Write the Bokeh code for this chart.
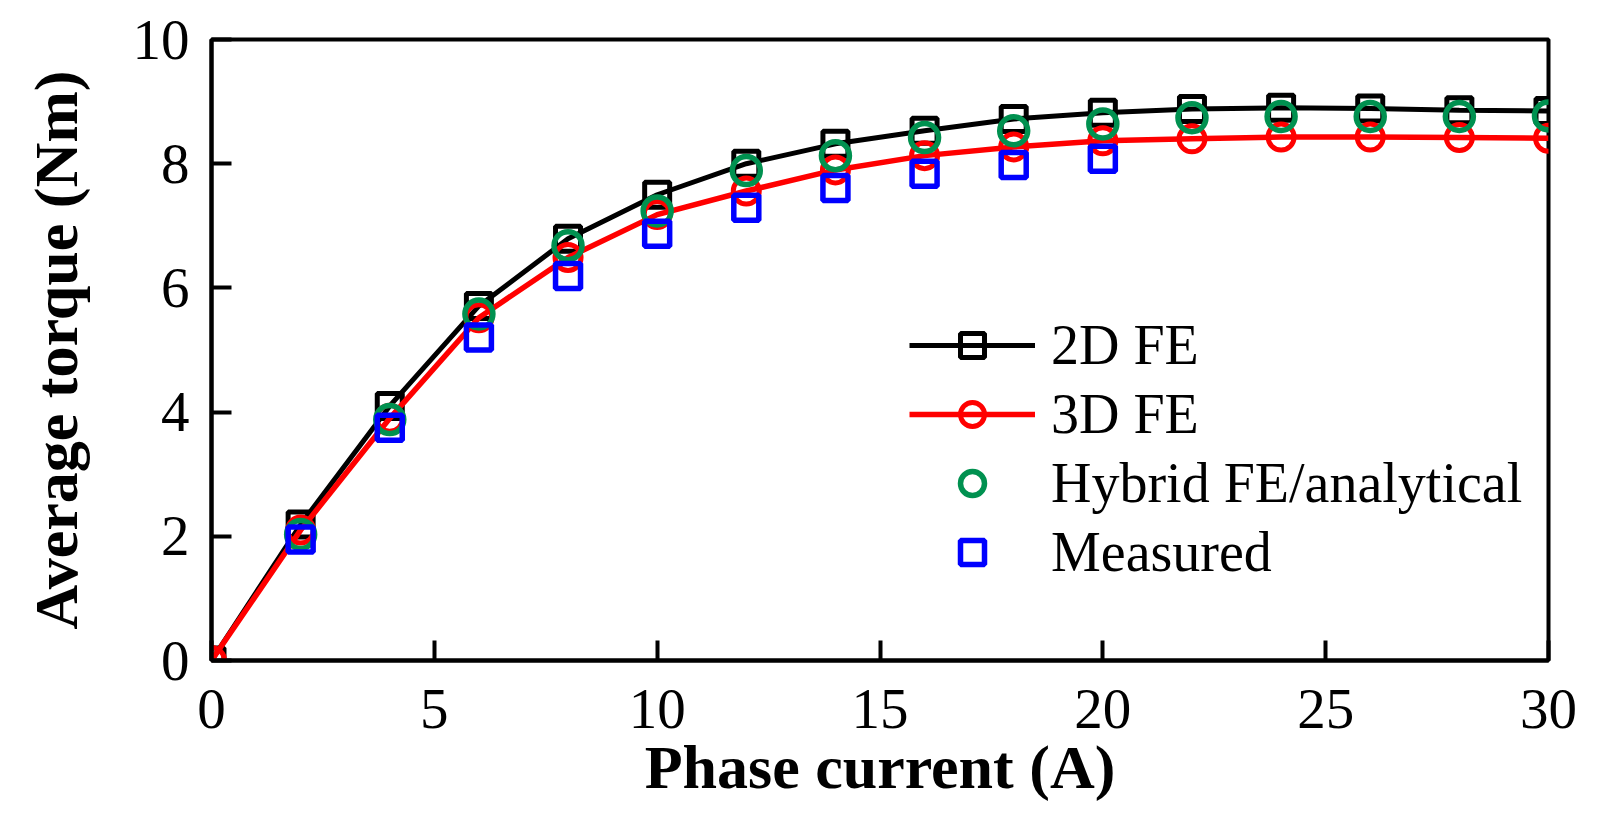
from bokeh.plotting import figure
from bokeh.models import Range1d, FixedTicker, Legend, LegendItem
from bokeh.embed import file_html
from bokeh.resources import INLINE

# ---- data ----
x_fe = [0, 2, 4, 6, 8, 10, 12, 14, 16, 18, 20, 22, 24, 26, 28, 30]
torque_2d = [0, 2.19, 4.10, 5.71, 6.79, 7.50, 8.00, 8.32, 8.53, 8.72, 8.82, 8.88, 8.90, 8.89, 8.86, 8.85]
torque_3d = [0, 2.10, 3.90, 5.52, 6.49, 7.18, 7.56, 7.90, 8.13, 8.27, 8.37, 8.40, 8.43, 8.43, 8.42, 8.41]
x_hybrid = [2, 4, 6, 8, 10, 12, 14, 16, 18, 20, 22, 24, 26, 28, 30]
torque_hybrid = [2.03, 3.88, 5.58, 6.68, 7.24, 7.89, 8.13, 8.42, 8.53, 8.64, 8.74, 8.76, 8.76, 8.76, 8.77]
x_meas = [2, 4, 6, 8, 10, 12, 14, 16, 18, 20]
torque_meas = [1.95, 3.75, 5.20, 6.19, 6.87, 7.29, 7.61, 7.84, 7.98, 8.08]

x_ticks = [0, 5, 10, 15, 20, 25, 30]
y_ticks = [0, 2, 4, 6, 8, 10]

FONT = "Liberation Serif"
GREEN = "#009150"

p = figure(width=1593, height=815, output_backend="svg", toolbar_location=None,
           x_range=Range1d(0, 30), y_range=Range1d(0, 10),
           min_border_left=211, min_border_right=45, min_border_top=39, min_border_bottom=155)
p.xgrid.visible = False
p.ygrid.visible = False
p.outline_line_color = "black"
p.outline_line_width = 4
p.background_fill_color = "white"
p.border_fill_color = "white"

for ax, ticks in ((p.xaxis, x_ticks), (p.yaxis, y_ticks)):
    ax.ticker = FixedTicker(ticks=ticks)
    ax.axis_line_width = 4
    ax.axis_line_color = "black"
    ax.major_tick_in = 20
    ax.major_tick_out = 0
    ax.major_tick_line_width = 4
    ax.major_tick_line_color = "black"
    ax.minor_tick_line_color = None
    ax.major_label_text_font = FONT
    ax.major_label_text_font_size = "57px"
    ax.major_label_text_color = "black"
    ax.axis_label_text_font = FONT
    ax.axis_label_text_font_size = "62px"
    ax.axis_label_text_font_style = "bold"
    ax.axis_label_text_color = "black"

p.xaxis.axis_label = "Phase current (A)"
p.yaxis.axis_label = "Average torque (Nm)"
p.xaxis.major_label_standoff = 29
p.yaxis.major_label_standoff = 22
p.xaxis.axis_label_standoff = 2
p.yaxis.axis_label_standoff = 40

l2 = p.line(x_fe, torque_2d, line_color="black", line_width=5)
m2 = p.scatter(x_fe, torque_2d, marker="square", size=25, fill_color=None,
               line_color="black", line_width=5)
l3 = p.line(x_fe, torque_3d, line_color="red", line_width=5.5)
m3 = p.scatter(x_fe, torque_3d, marker="circle", size=26, fill_color=None,
               line_color="red", line_width=5)
mh = p.scatter(x_hybrid, torque_hybrid, marker="circle", size=28, fill_color=None,
               line_color=GREEN, line_width=5.5)
mm = p.scatter(x_meas, torque_meas, marker="square", size=25, fill_color=None,
               line_color="blue", line_width=5.5)

legend = Legend(items=[
    LegendItem(label="2D FE", renderers=[l2, m2]),
    LegendItem(label="3D FE", renderers=[l3, m3]),
    LegendItem(label="Hybrid FE/analytical", renderers=[mh]),
    LegendItem(label="Measured", renderers=[mm]),
], location=(698, 76))
legend.border_line_alpha = 0
legend.background_fill_alpha = 0
legend.padding = 0
legend.margin = 0
legend.spacing = 5
legend.glyph_width = 126
legend.glyph_height = 60
legend.label_height = 60
legend.label_standoff = 16
legend.label_text_font = FONT
legend.label_text_font_size = "56px"
legend.label_text_color = "black"
p.add_layout(legend)

open("out.html", "w").write(file_html(p, INLINE))
